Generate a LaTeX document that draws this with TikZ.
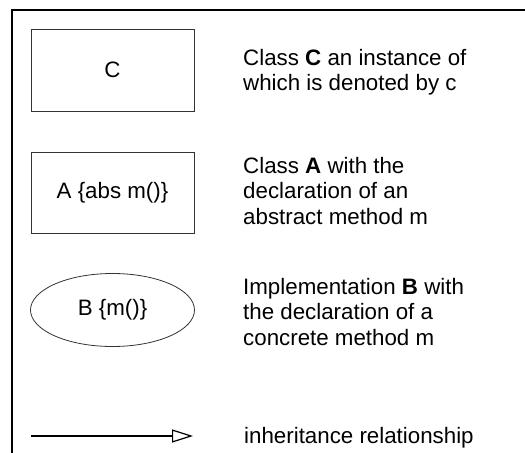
\documentclass[tikz,border=0pt]{standalone}
\usepackage{fontspec}
\setmainfont{Liberation Sans}
\usetikzlibrary{arrows.meta,shapes.geometric}
\begin{document}
\begin{tikzpicture}[x=1bp,y=-1bp,
  every node/.style={font=\fontsize{22.4}{25.5}\selectfont, text=black},
  classbox/.style={draw=black!80, line width=0.8bp, minimum width=163bp,
                   minimum height=82bp, inner sep=0pt},
  implbox/.style={ellipse, draw=black!80, line width=0.8bp, minimum width=164bp,
                  minimum height=73bp, inner sep=0pt},
  legend/.style={anchor=west, align=left, inner sep=0pt},
  frameline/.style={line width=2.4bp},
  inherit/.style={line width=1.2bp, -{Triangle[open, length=21bp, width=13bp, line width=1.2bp]}}]
\useasboundingbox (0,0) rectangle (525,453);

% open frame: top and left edges only
\draw[frameline] (525,10) -- (12,10) -- (12,453);

% legend symbols
\node[classbox] (cls) at (112.5,70) {C};
\node[classbox, minimum height=81bp] (abs) at (112.5,192.5) {A \{abs m()\}};
\node[implbox] (impl) at (112.5,310) {B \{m()\}};
\coordinate (inhFrom) at (31,436);
\coordinate (inhTo) at (193,436);
\draw[inherit] (inhFrom) -- (inhTo);

% explanations
\node[legend] (clsText) at (243,72) {Class \textbf{C} an instance of\\which is denoted by c};
\node[legend] (absText) at (243,191) {Class \textbf{A} with the\\declaration of an\\abstract method m};
\node[legend] (implText) at (243,312) {Implementation \textbf{B} with\\the declaration of a\\concrete method m};
\node[legend, anchor=base west] (inhText) at (244,443) {inheritance relationship};
\end{tikzpicture}
\end{document}
